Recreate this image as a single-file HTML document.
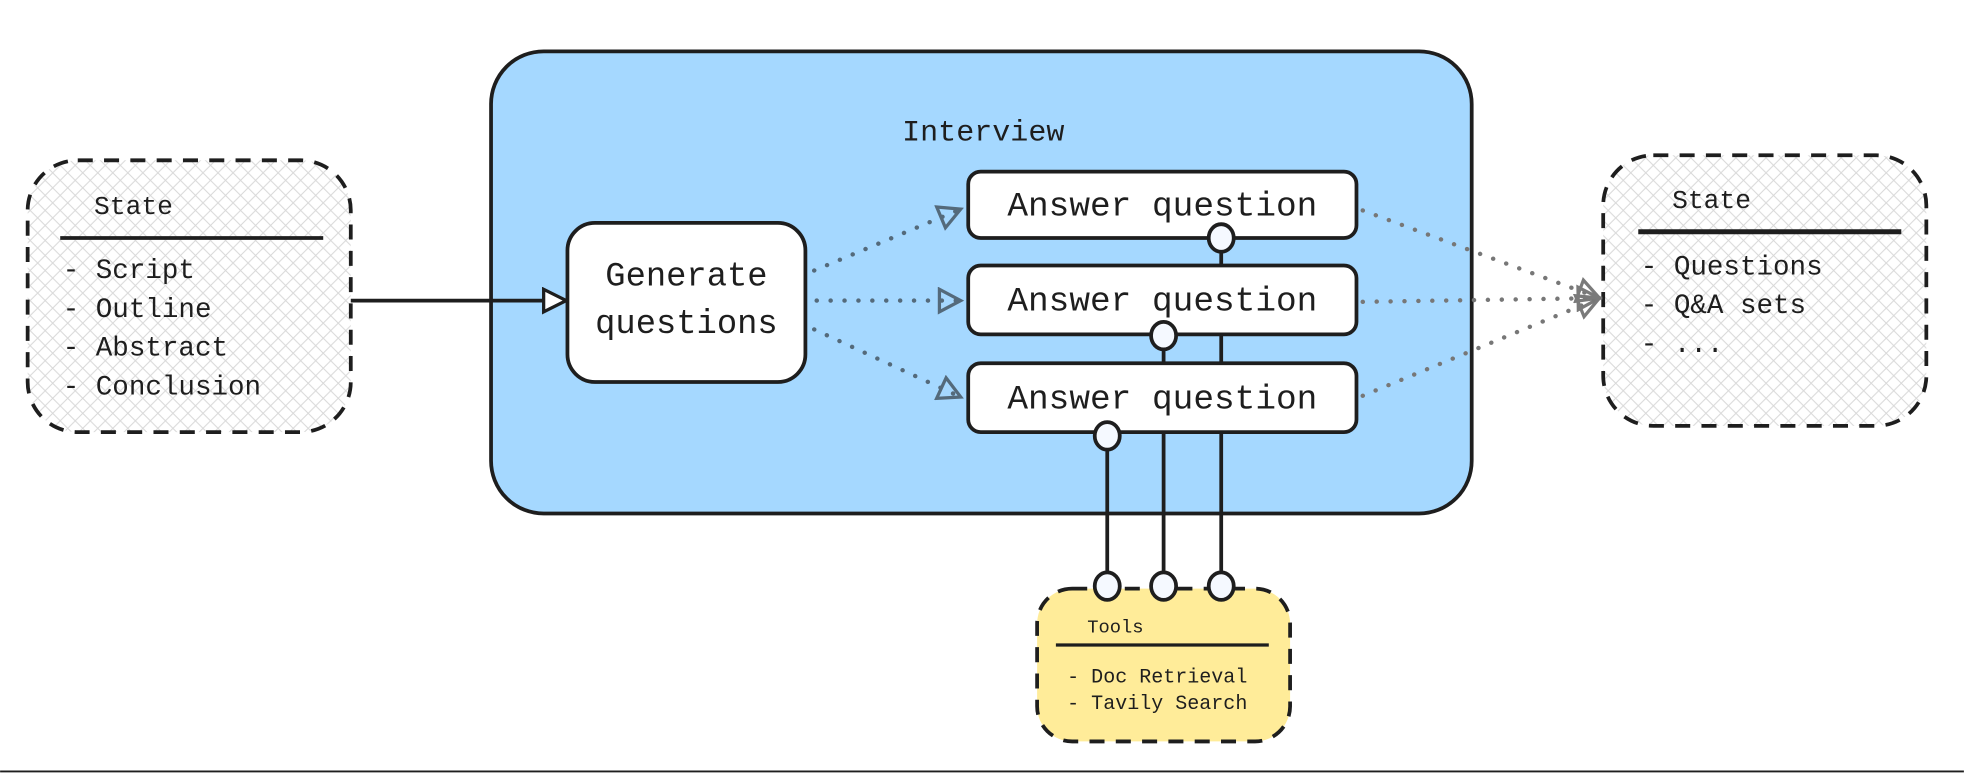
<!DOCTYPE html>
<html><head><meta charset="utf-8"><style>
html,body{margin:0;padding:0;background:#fff;}
svg{display:block;}
text{font-family:"Liberation Mono",monospace;fill:#1e1e1e;}
</style></head><body>
<svg width="1964" height="774" viewBox="0 0 1568 618" xmlns="http://www.w3.org/2000/svg">
<defs>
<pattern id="h" width="12" height="12" patternUnits="userSpaceOnUse">
<path d="M0 0L12 12M12 0L0 12" stroke="#d8d8d8" stroke-width="0.8"/>
</pattern>
<marker id="a1" markerWidth="22" markerHeight="22" refX="20" refY="11" orient="auto" markerUnits="userSpaceOnUse">
<path d="M2 2L20 11L2 20Z" fill="#fff" stroke="#1e1e1e" stroke-width="2.6"/></marker>
<marker id="a2" markerWidth="22" markerHeight="22" refX="19" refY="11" orient="auto" markerUnits="userSpaceOnUse">
<path d="M2 2L19 11L2 20Z" fill="none" stroke="#546a7b" stroke-width="2.6"/></marker>
<marker id="a3" markerWidth="22" markerHeight="22" refX="19" refY="11" orient="auto" markerUnits="userSpaceOnUse">
<path d="M2 2L19 11L2 20Z" fill="none" stroke="#7a7a7a" stroke-width="2.6"/></marker>
</defs>
<rect x="0" y="0" width="1568" height="618" fill="#fff"/>
<line x1="0" y1="616" x2="1568" y2="616" stroke="#1e1e1e" stroke-width="1.5"/>

<!-- Interview -->
<rect x="392" y="41" width="783" height="369" rx="42" fill="#a5d8ff" stroke="#1e1e1e" stroke-width="3"/>
<text x="785" y="112" font-size="24" text-anchor="middle">Interview</text>

<!-- Left state -->
<rect x="22" y="128" width="258" height="217" rx="40" fill="url(#h)" stroke="#1e1e1e" stroke-width="3" stroke-dasharray="12 9"/>
<text x="75" y="171" font-size="21">State</text>
<line x1="48" y1="190" x2="258" y2="190" stroke="#1e1e1e" stroke-width="3"/>
<text font-size="22"><tspan x="50" y="222">- Script</tspan><tspan x="50" y="253">- Outline</tspan><tspan x="50" y="284">- Abstract</tspan><tspan x="50" y="315">- Conclusion</tspan></text>

<!-- Right state -->
<rect x="1280" y="124" width="258" height="216" rx="40" fill="url(#h)" stroke="#1e1e1e" stroke-width="3" stroke-dasharray="12 9"/>
<text x="1335" y="166" font-size="21">State</text>
<line x1="1308" y1="185" x2="1518" y2="185" stroke="#1e1e1e" stroke-width="4"/>
<text font-size="22"><tspan x="1310" y="219">- Questions</tspan><tspan x="1310" y="250">- Q&amp;A sets</tspan><tspan x="1310" y="281">- ...</tspan></text>

<!-- Tools -->
<rect x="828" y="470" width="202" height="122" rx="28" fill="#ffec99" stroke="#1e1e1e" stroke-width="3" stroke-dasharray="12 9"/>
<text x="868" y="505" font-size="15">Tools</text>
<line x1="843" y1="515" x2="1013" y2="515" stroke="#1e1e1e" stroke-width="2.5"/>
<text font-size="16"><tspan x="852" y="545">- Doc Retrieval</tspan><tspan x="852" y="566">- Tavily Search</tspan></text>

<!-- main arrow -->
<line x1="280" y1="240" x2="452" y2="240" stroke="#1e1e1e" stroke-width="3" marker-end="url(#a1)"/>

<!-- dotted arrows -->
<g stroke="#546a7b" stroke-width="3.5" stroke-dasharray="0.1 11" stroke-linecap="round" fill="none">
<line x1="650" y1="216" x2="767" y2="167" marker-end="url(#a2)"/>
<line x1="652" y1="240" x2="767" y2="240" marker-end="url(#a2)"/>
<line x1="650" y1="263" x2="767" y2="317" marker-end="url(#a2)"/>
</g>
<g stroke="#777" stroke-width="3.5" stroke-dasharray="0.1 11" stroke-linecap="round" fill="none">
<line x1="1088" y1="168" x2="1277" y2="238" marker-end="url(#a3)"/>
<line x1="1088" y1="241" x2="1277" y2="238" marker-end="url(#a3)"/>
<line x1="1088" y1="316" x2="1277" y2="238" marker-end="url(#a3)"/>
</g>

<!-- vertical connectors -->
<g stroke="#1e1e1e" stroke-width="3">
<line x1="975" y1="190" x2="975" y2="468"/>
<line x1="929" y1="268" x2="929" y2="468"/>
<line x1="884" y1="348" x2="884" y2="468"/>
</g>

<!-- Generate -->
<rect x="453" y="178" width="190" height="127" rx="22" fill="#fff" stroke="#1e1e1e" stroke-width="3"/>
<text x="548" y="228" font-size="27" text-anchor="middle">Generate</text>
<text x="548" y="266" font-size="27" text-anchor="middle">questions</text>

<!-- Answer boxes -->
<g fill="#fff" stroke="#1e1e1e" stroke-width="3">
<rect x="773" y="137" width="310" height="53" rx="10"/>
<rect x="773" y="212" width="310" height="55" rx="10"/>
<rect x="773" y="290" width="310" height="55" rx="10"/>
</g>
<g font-size="27.5" text-anchor="middle">
<text x="928" y="172">Answer question</text>
<text x="928" y="248">Answer question</text>
<text x="928" y="326">Answer question</text>
</g>

<!-- circles -->
<g fill="#f5f9ff" stroke="#1e1e1e" stroke-width="3">
<ellipse cx="975" cy="190" rx="10" ry="11"/>
<ellipse cx="929" cy="268" rx="10" ry="11"/>
<ellipse cx="884" cy="348" rx="10" ry="11"/>
<ellipse cx="884" cy="468" rx="10" ry="11"/>
<ellipse cx="929" cy="468" rx="10" ry="11"/>
<ellipse cx="975" cy="468" rx="10" ry="11"/>
</g>
</svg>
</body></html>
